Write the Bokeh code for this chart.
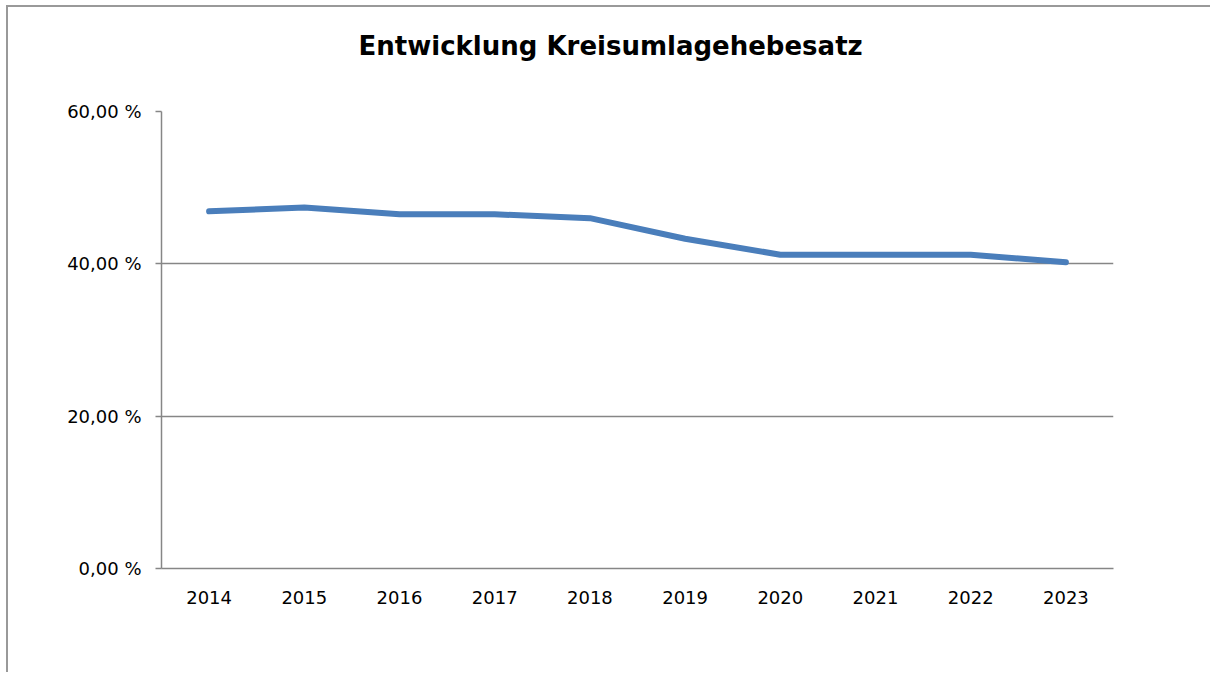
from bokeh.plotting import figure
from bokeh.embed import file_html
from bokeh.resources import INLINE
from bokeh.models import ColumnDataSource, FixedTicker, CustomJSTickFormatter, Range1d

years = ["2014", "2015", "2016", "2017", "2018", "2019", "2020", "2021", "2022", "2023"]
rates = [46.9, 47.4, 46.5, 46.5, 46.0, 43.3, 41.2, 41.2, 41.2, 40.2]
y_ticks = [0, 20, 40, 60]
title_text = "Entwicklung Kreisumlagehebesatz"

src = ColumnDataSource(data=dict(x=years, y=rates))

p = figure(x_range=years, y_range=Range1d(0, 60), width=1204, height=667,
           output_backend="svg", toolbar_location=None,
           min_border_left=153, min_border_right=99, min_border_top=104, min_border_bottom=106)

# trailing empty line reserves room below the title so it sits higher above the frame
p.title.text = title_text + "\n"
p.title.align = "left"
p.title.offset = 197
p.title.vertical_align = "top"
p.title.standoff = 38
p.title.text_font = "DejaVu Sans"
p.title.text_font_size = "26px"
p.title.text_font_style = "bold"
p.title.text_color = "#000000"

p.line("x", "y", source=src, line_color="#4a7ebb", line_width=6, line_cap="round", line_join="round")

p.outline_line_color = None
p.background_fill_color = "white"
p.border_fill_color = "white"

p.xgrid.grid_line_color = None
p.ygrid.grid_line_color = "#868686"
p.ygrid.grid_line_width = 1.5

p.yaxis.ticker = FixedTicker(ticks=y_ticks)
p.yaxis.formatter = CustomJSTickFormatter(code="return tick.toFixed(2).replace('.', ',') + ' %';")
p.yaxis.axis_line_color = "#868686"
p.yaxis.axis_line_width = 1.5
p.yaxis.major_tick_line_color = "#868686"
p.yaxis.major_tick_line_width = 1.5
p.yaxis.major_tick_out = 6
p.yaxis.major_tick_in = 0
p.yaxis.minor_tick_line_color = None
p.yaxis.major_label_standoff = 14

p.xaxis.axis_line_color = "#868686"
p.xaxis.axis_line_width = 1.5
p.xaxis.major_tick_line_color = None
p.xaxis.minor_tick_line_color = None
p.xaxis.major_label_standoff = 16

for ax in (p.xaxis, p.yaxis):
    ax.major_label_text_font = "DejaVu Sans"
    ax.major_label_text_font_size = "18px"
    ax.major_label_text_color = "#000000"

p.styles = {"border-left": "2px solid #999999", "border-top": "2px solid #999999",
            "margin-left": "6px", "margin-top": "5px"}

open("out.html", "w").write(file_html(p, INLINE))
